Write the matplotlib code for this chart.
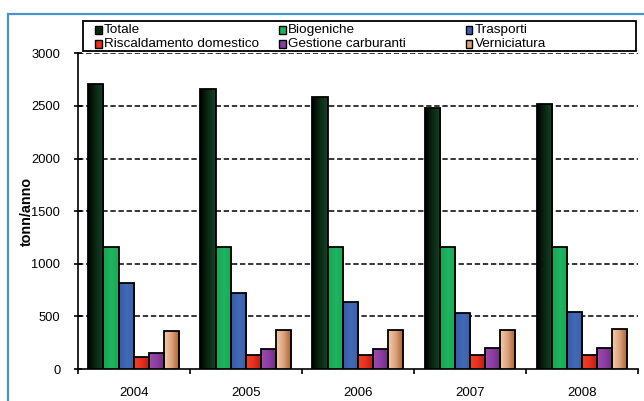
import numpy as np
import matplotlib.pyplot as plt
from matplotlib.colors import LinearSegmentedColormap
from matplotlib.patches import Rectangle

plt.rcParams['font.family'] = ['Liberation Sans', 'DejaVu Sans']

# emissioni annue per fonte (tonn/anno)
anni = ['2004', '2005', '2006', '2007', '2008']
fonti = ['Totale', 'Biogeniche', 'Trasporti',
         'Riscaldamento domestico', 'Gestione carburanti', 'Verniciatura']
totale = [2708, 2663, 2587, 2477, 2515]
biogeniche = [1162, 1162, 1162, 1162, 1162]
trasporti = [820, 719, 640, 529, 544]
riscaldamento = [117, 136, 133, 133, 133]
gestione = [155, 190, 193, 197, 202]
verniciatura = [364, 368, 368, 370, 377]

serie = [totale, biogeniche, trasporti, riscaldamento, gestione, verniciatura]
# sfumature sinistra -> destra per ogni fonte
sfumature = [
    ['#000000', '#0a2a12', '#15452a'],
    ['#17a552', '#1fb55e', '#1ba757'],
    ['#365ca6', '#4169b6', '#3a60ad'],
    ['#f2402e', '#e2301f', '#b81a12'],
    ['#9c4eae', '#8a3d9e', '#6c2d86'],
    ['#f4cdb0', '#dba07a', '#a45a2c'],
]
colori_legenda = ['#0a2a12', '#1db25a', '#3a62b0', '#e8301f', '#8a3d9e', '#d8a078']

fig = plt.figure(figsize=(6.44, 4.01), dpi=100)
ax = fig.add_axes([77.7 / 644, 1 - 369 / 401, (638 - 77.7) / 644, (369 - 53.3) / 401])

x = np.arange(len(anni))
larg = 0.135
grad = np.linspace(0, 1, 64).reshape(1, -1)
for i, (valori, cols) in enumerate(zip(serie, sfumature)):
    cmap = LinearSegmentedColormap.from_list(fonti[i], cols)
    pos = x + (i - 2.5) * larg
    barre = ax.bar(pos, valori, width=larg, facecolor='none',
                   edgecolor='black', linewidth=1.3, zorder=4)
    for b in barre:
        x0, w, h = b.get_x(), b.get_width(), b.get_height()
        img = ax.imshow(grad, cmap=cmap, aspect='auto',
                        extent=[x0, x0 + w, 0, h], zorder=3)
        img.set_clip_path(b)

ax.set_xlim(-0.5, len(anni) - 0.5)
ax.set_ylim(0, 3000)
ax.set_yticks(np.arange(0, 3001, 500))
ax.set_xticks(x)
ax.set_xticklabels(anni)
ax.set_xticks(np.arange(-0.5, len(anni)), minor=True)

for y in np.arange(500, 3001, 500):
    ax.axhline(y, color='black', linewidth=1.1, linestyle=(0, (3.5, 1.8)), zorder=1)

for s in ['top', 'right']:
    ax.spines[s].set_visible(False)
for s in ['left', 'bottom']:
    ax.spines[s].set_linewidth(1.2)
ax.tick_params(axis='y', direction='inout', length=6, width=1.2, pad=9.5, labelsize=9.3)
ax.tick_params(axis='x', which='major', length=0, pad=13, labelsize=9.5)
ax.tick_params(axis='x', which='minor', direction='out', length=3.5, width=1.2)
ax.set_ylabel('tonn/anno', fontsize=10.3, fontweight='bold', labelpad=-2)

# cornice esterna
fig.patches.append(Rectangle((8 / 644, -0.2), 2, 1.2 - 14 / 401,
                             transform=fig.transFigure, fill=False,
                             edgecolor='#4a94cc', linewidth=1.6))

# legenda su due righe e tre colonne
fig.patches.append(Rectangle((83 / 644, 1 - 50.7 / 401), (636 - 83) / 644, 29.7 / 401,
                             transform=fig.transFigure, facecolor='white',
                             edgecolor='black', linewidth=1.3))
col_x = [95, 279, 466]
row_y = [30, 44]
for k, nome in enumerate(fonti):
    cx = col_x[k % 3]
    cy = row_y[k // 3]
    fig.patches.append(Rectangle((cx / 644, 1 - (cy + 3.5) / 401), 6.5 / 644, 7 / 401,
                                 transform=fig.transFigure,
                                 facecolor=colori_legenda[k],
                                 edgecolor='black', linewidth=1.0))
    fig.text((cx + 9) / 644, 1 - cy / 401, nome, fontsize=9.7,
             ha='left', va='center')

fig.savefig('out.png', dpi=100)
